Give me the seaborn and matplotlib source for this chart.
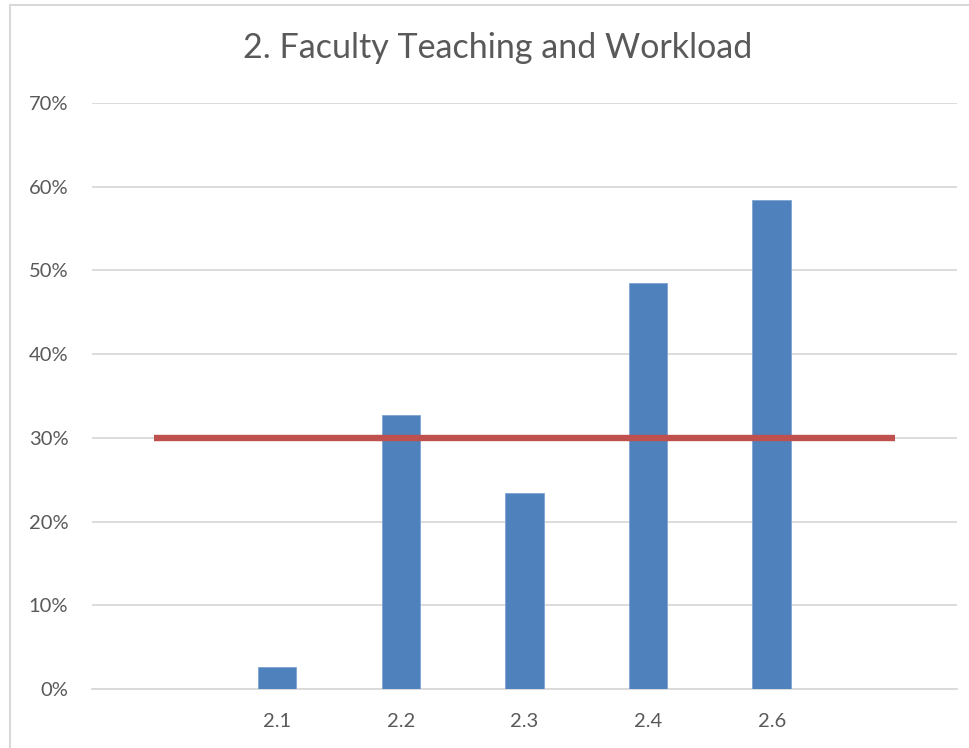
import numpy as np
import pandas as pd
import matplotlib
matplotlib.use("Agg")
import matplotlib.pyplot as plt
import seaborn as sns
from matplotlib.patches import Rectangle
from matplotlib.ticker import MultipleLocator, FuncFormatter

# Category slots (blank slots at both ends give room for the benchmark line)
categories = ["", "2.1", "2.2", "2.3", "2.4", "2.6", " "]
shares = [np.nan, 2.6, 32.7, 23.4, 48.5, 58.4, np.nan]
benchmark = [30, 30, 30, 30, 30, 30, 30]

title = "2. Faculty Teaching and Workload"

sns.set_theme(style="white")
plt.rcParams["font.family"] = ["Lato", "DejaVu Sans"]

text_color = "#595959"
grid_color = "#D9D9D9"
bar_color = "#4F81BD"
line_color = "#C0504D"

fig = plt.figure(figsize=(9.7, 7.48), dpi=100)
ax = fig.add_axes([0.0948, 0.0789, 0.8918, 0.7834])

df = pd.DataFrame({"item": categories, "share": shares})
sns.barplot(data=df, x="item", y="share", order=categories, color=bar_color,
            width=0.31, saturation=1, edgecolor="#7FA3D2", linewidth=0.6,
            ax=ax, zorder=3)

sns.lineplot(x=np.arange(len(categories)), y=benchmark, color=line_color,
             linewidth=4.6, ax=ax, zorder=4)
for ln in ax.lines:
    ln.set_solid_capstyle("butt")

ax.set_ylim(0, 70)
ax.set_xlim(-0.5, len(categories) - 0.5)
ax.yaxis.set_major_locator(MultipleLocator(10))
ax.yaxis.set_major_formatter(FuncFormatter(lambda v, _: f"{v:.0f}%"))
ax.grid(axis="y", color=grid_color, linewidth=1.3, zorder=0)
ax.grid(axis="x", visible=False)
for side in ["top", "right", "left"]:
    ax.spines[side].set_visible(False)
ax.spines["bottom"].set_color(grid_color)
ax.spines["bottom"].set_linewidth(1.3)
ax.tick_params(axis="both", length=0, colors=text_color, labelsize=14.5)
ax.tick_params(axis="y", pad=17)
ax.tick_params(axis="x", pad=17)
ax.set_xlabel("")
ax.set_ylabel("")

fig.text(0.513, 0.936, title, ha="center", va="center", fontsize=24.5,
         color=text_color)

# Chart area frame
fig.patches.append(Rectangle((0.0108, -0.05), 1.2, 1.0428, transform=fig.transFigure,
                             fill=False, edgecolor="#D9D9D9", linewidth=1.5))

fig.savefig("out.png", dpi=100, facecolor="white")
